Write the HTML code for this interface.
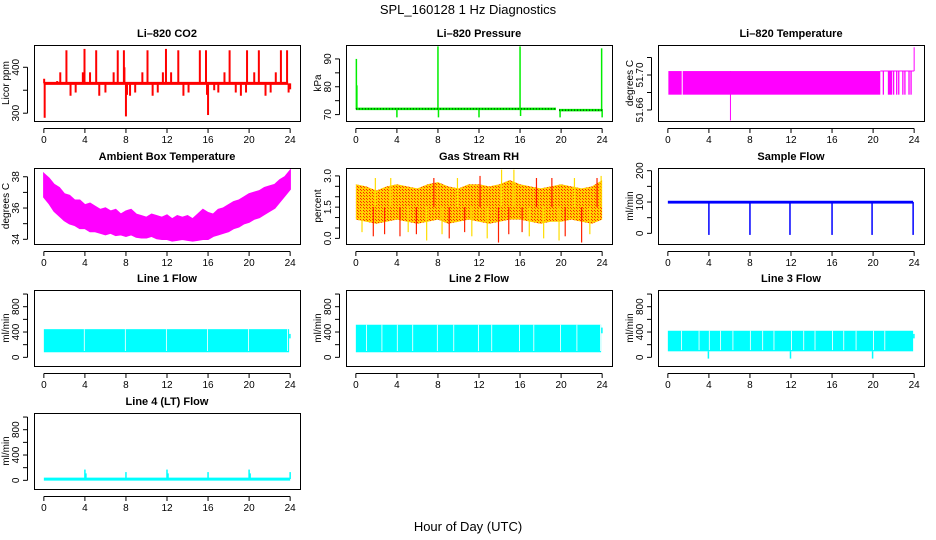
<!DOCTYPE html>
<html><head><meta charset="utf-8"><style>
html,body{margin:0;padding:0;background:#fff;}
svg{display:block;font-family:"Liberation Sans",Arial,sans-serif;}
</style></head><body>
<svg id="c" width="936" height="540" viewBox="0 0 936 540">
<defs>
<pattern id="rhpat" width="3" height="3" patternUnits="userSpaceOnUse">
<rect width="3" height="3" fill="#ffd000"/><rect width="1" height="1" fill="#ff2000"/><rect x="1" y="1" width="1" height="1" fill="#ff4000"/>
</pattern>
</defs>
<text x="468" y="14" text-anchor="middle" font-size="13">SPL_160128  1 Hz Diagnostics</text>
<text x="468" y="531" text-anchor="middle" font-size="13">Hour of Day (UTC)</text>
</svg>
<script>
const xTicks=[0,4,8,12,16,20,24];
// CO2
const co2Base=365;
const co2SpikeHours=[0.03,0.08,1.3,1.6,2.2,2.6,3.1,3.8,3.96,4.5,5.1,5.4,6.0,6.8,7.2,7.8,7.85,8.0,8.1,8.4,8.9,9.6,10.1,10.6,11.1,11.6,11.9,12.4,13.1,13.6,14.1,15.2,15.8,15.9,16.0,16.6,17.0,17.6,18.1,18.7,19.2,19.7,19.8,20.5,20.95,21.6,22.1,22.6,23.1,23.7,23.85,24.0];
const co2SpikeVals=[375,290,370,389,437,338,345,389,440,389,437,338,345,389,437,437,400,293,340,338,345,389,437,338,345,389,440,389,437,338,345,437,437,340,296,350,345,389,437,345,338,345,437,389,437,338,345,389,437,437,345,352];
// Pressure
const pressSegStart=[0,19.8];
const pressSegEnd=[19.5,24];
const pressSegVals=[72.05,71.6];
const pressSpikeHours=[0.05,0.1,4,8,8.05,12,16,16.05,19.9,23.95,24.0];
const pressSpikeVals=[90,80.5,69,94.5,69,69,94.5,69.5,69,93.8,69];
// Li-820 temperature
const tempLow=51.6775, tempHigh=51.7045;
const tempBandStart=[0.05,1.45];
const tempBandEnd=[1.35,20.7];
const tempLineHours=[21.0,21.5,21.6,21.7,21.8,22.0,22.3,22.5,22.9,23.1,23.5,23.7];
const tempSpikeHours=[6.1,24.0];
const tempSpikeVals=[51.648,51.7317];
// Ambient box temperature (half-hourly envelope)
const ambMax=[38.2,37.9,37.5,37.3,36.9,36.8,36.5,36.5,36.2,36.3,36.1,35.9,36.0,35.8,35.9,35.6,35.8,35.9,35.6,35.5,35.4,35.6,35.5,35.4,35.55,35.3,35.5,35.4,35.5,35.3,35.6,35.9,35.7,35.6,35.9,36.0,36.2,36.4,36.5,36.7,36.9,37.0,37.1,37.3,37.4,37.5,37.8,38.0,38.4];
const ambMin=[36.7,36.3,35.8,35.5,35.2,35.0,34.9,34.7,34.7,34.5,34.5,34.4,34.3,34.4,34.25,34.3,34.2,34.3,34.15,34.1,34.1,34.2,34.05,34.0,34.0,33.9,33.95,34.0,33.95,33.9,33.95,34.0,34.0,34.2,34.3,34.4,34.5,34.7,34.8,35.0,35.1,35.3,35.4,35.6,35.8,36.0,36.4,36.8,37.2];
// Gas stream RH
const rhHours=[0,1,2,3,4,5,6,7,8,9,10,11,12,13,14,15,16,17,18,19,20,21,22,23,24];
const rhTop=[2.6,2.5,2.3,2.5,2.6,2.5,2.4,2.6,2.7,2.5,2.4,2.6,2.6,2.5,2.6,2.8,2.6,2.5,2.4,2.5,2.6,2.5,2.4,2.5,2.8];
const rhBot=[0.9,0.8,0.7,0.8,0.9,0.8,0.7,0.8,0.9,0.7,0.8,0.9,0.8,0.7,0.8,0.9,0.9,0.8,0.7,0.8,0.8,0.9,0.8,0.7,0.9];
const rhSpikeHours=[0.6,1.7,1.9,2.8,3.4,4.3,5.1,5.9,6.9,7.6,8.4,9.1,9.9,10.6,11.3,12.1,12.8,13.9,14.2,14.9,15.4,16.2,16.9,17.6,18.3,19.1,19.8,20.4,21.3,22.0,22.8,23.5,23.9];
const rhSpikeVals=[0.3,0.1,2.9,0.2,2.9,0.1,0.3,0.2,-0.1,2.9,0.2,0.0,2.9,0.3,0.1,3.0,0.0,-0.2,3.3,0.2,3.3,0.3,0.1,2.9,0.0,2.9,-0.1,0.1,2.9,-0.2,0.2,2.9,3.0];
// Sample flow
const sfLow=95, sfHigh=104, sfEnd=23.9;
const sfDropHours=[4,8,11.9,16,19.9,23.9];
const sfDropVals=[-5,-5,-5,-5,-5,-5];
// Line flows
const l1Low=80, l1High=445;
const l1Gaps=[3.9,7.9,11.9,15.9,19.9,23.7];
const l2Low=80, l2High=515;
const l2Gaps=[1.0,2.5,4.0,5.5,7.9,9.5,11.9,13.2,15.9,17.3,19.9,21.5,23.8];
const l3Low=95, l3High=420;
const l3Gaps=[1.3,3.0,4.0,5.1,6.3,8.0,9.2,10.3,12.0,13.2,14.3,16.0,17.1,18.3,20.0,21.1];
const l3DipHours=[3.95,11.95,19.95];
const l3DipVals=[-20,-20,-20];
const l4Base=20;
const l4SpikeHours=[4,4.1,8,12,12.1,16,20,20.1,24];
const l4SpikeVals=[170,110,130,170,110,130,170,110,130];

const NS='http://www.w3.org/2000/svg';
const svg=document.getElementById('c');
const lefts=[34,346,658], bottoms=[121,244,366,489], W=266, H=76;
function mk(tag,attrs,parent){const e=document.createElementNS(NS,tag);for(const k in attrs)e.setAttribute(k,attrs[k]);(parent||svg).appendChild(e);return e;}
function panel(col,row,name,title,ylab,ymin,ymax,ticks,labels,labelText){
  const L=lefts[col], B=bottoms[row], T=B-H;
  const g=mk('g',{});
  
  
  const sx=h=>L+(h+0.96)/25.92*W;
  const sy=v=>T+(ymax-v)/(ymax-ymin)*H;
  const dg=mk('g',{},g);
  
  
  const ag=mk('g',{},g);
  const box=mk('rect',{x:L+0.5,y:T+0.5,width:W,height:H,fill:'none',stroke:'#000','stroke-width':1},ag);
  
  
  mk('line',{x1:sx(0),x2:sx(24),y1:B+7.5,y2:B+7.5,stroke:'#000'},ag);
  xTicks.forEach(t=>{
    mk('line',{x1:sx(t),x2:sx(t),y1:B+7.5,y2:B+12,stroke:'#000'},ag);
    const tx=mk('text',{x:sx(t),y:B+22,'text-anchor':'middle','font-size':10},ag);
    tx.textContent=t;
    
    
  });
  mk('line',{x1:L-6.5,x2:L-6.5,y1:sy(ticks[0]),y2:sy(ticks[ticks.length-1]),stroke:'#000'},ag);
  ticks.forEach(t=>{
    mk('line',{x1:L-11,x2:L-6.5,y1:sy(t),y2:sy(t),stroke:'#000'},ag);
  });
  labels.forEach((t,i)=>{
    const y=sy(t);
    const tx=mk('text',{x:0,y:0,transform:`translate(${L-15},${y}) rotate(-90)`,'text-anchor':'middle','font-size':10},ag);
    tx.textContent=labelText?labelText[i]:t;
    
    
  });
  const yl=mk('text',{x:0,y:0,transform:`translate(${L-25},${T+H/2}) rotate(-90)`,'text-anchor':'middle','font-size':10},ag);
  yl.textContent=ylab;
  
  
  const tt=mk('text',{x:L+W/2,y:T-8,'text-anchor':'middle','font-size':11,'font-weight':'bold'},ag);
  tt.textContent=title;
  
  
  return {sx,sy,g:dg};
}
function vl(p,h,v1,v2,col,w){return mk('line',{x1:p.sx(h),x2:p.sx(h),y1:p.sy(v1),y2:p.sy(v2),stroke:col,'stroke-width':w||1},p.g);}
function band(p,h1,h2,v1,v2,fill){return mk('rect',{x:p.sx(h1),y:p.sy(v2),width:p.sx(h2)-p.sx(h1),height:p.sy(v1)-p.sy(v2),fill:fill},p.g);}
function envelope(p,hours,top,bot,fill,stroke){
  let pts=hours.map((h,i)=>p.sx(h)+','+p.sy(top[i]));
  for(let i=hours.length-1;i>=0;i--)pts.push(p.sx(hours[i])+','+p.sy(bot[i]));
  return mk('polygon',{points:pts.join(' '),fill:fill,stroke:stroke||'none','stroke-width':1.5,'stroke-linejoin':'miter'},p.g);
}

// CO2
let p=panel(0,0,'co2','Li\u2013820 CO2','Licor ppm',283,448.5,[300,350,400],[300,400]);
co2SpikeHours.forEach((h,i)=>vl(p,h,co2Base,co2SpikeVals[i],'#ff0000',2));
mk('line',{x1:p.sx(0),x2:p.sx(23.8),y1:p.sy(co2Base),y2:p.sy(co2Base),stroke:'#ff0000','stroke-width':3},p.g);

// Pressure
p=panel(1,0,'pressure','Li\u2013820 Pressure','kPa',67.7,95,[70,75,80,85,90],[70,80,90]);
pressSegStart.forEach((s,i)=>mk('line',{x1:p.sx(s),x2:p.sx(pressSegEnd[i]),y1:p.sy(pressSegVals[i]),y2:p.sy(pressSegVals[i]),stroke:'#00ee00','stroke-width':2.5},p.g));
pressSpikeHours.forEach((h,i)=>vl(p,h,72,pressSpikeVals[i],'#00ee00',1.5));
pressSegStart.forEach((s,i)=>mk('line',{x1:p.sx(s),x2:p.sx(pressSegEnd[i]),y1:p.sy(pressSegVals[i]),y2:p.sy(pressSegVals[i]),stroke:'#000','stroke-width':1,'stroke-dasharray':'1,2'},p.g));

// Temperature
p=panel(2,0,'li820-temperature','Li\u2013820 Temperature','degrees C',51.6474,51.7343,[51.66,51.68,51.70,51.72],[51.66,51.70],['51.66','51.70']);
tempBandStart.forEach((s,i)=>band(p,s,tempBandEnd[i],tempLow,tempHigh,'#ff00ff'));
mk('line',{x1:p.sx(20.7),x2:p.sx(24),y1:p.sy(tempHigh),y2:p.sy(tempHigh),stroke:'#ff00ff'},p.g);
tempLineHours.forEach(h=>vl(p,h,tempLow,tempHigh,'#ff00ff',1.3));
tempSpikeHours.forEach((h,i)=>vl(p,h,tempHigh,tempSpikeVals[i],'#ff00ff',1));

// Ambient
p=panel(0,1,'ambient-temp','Ambient Box Temperature','degrees C',33.7,38.56,[34,35,36,37,38],[34,36,38]);
envelope(p,ambMax.map((v,i)=>i*0.5),ambMax,ambMin,'#ff00ff','#ff00ff');

// RH
p=panel(1,1,'gas-rh','Gas Stream RH','percent',-0.27,3.38,[0,0.5,1,1.5,2,2.5,3],[0,1.5,3],['0.0','1.5','3.0']);
envelope(p,rhHours,rhTop,rhBot,'url(#rhpat)');
rhSpikeHours.forEach((h,i)=>vl(p,h,1.5,rhSpikeVals[i],i%2?'#ff2000':'#ffdd00',1.2));

// Sample flow
p=panel(2,1,'sample-flow','Sample Flow','ml/min',-34,208.6,[0,50,100,150,200],[0,100,200]);
band(p,0,sfEnd,sfLow,sfHigh,'#0000ff');
sfDropHours.forEach((h,i)=>vl(p,h,100,sfDropVals[i],'#0000ff',1.5));

// Line flows
const lt=[0,200,400,600,800,1000], ll=[0,400,800];
function flow(col,row,name,title,lo,hi,gaps){
  const q=panel(col,row,name,title,'ml/min',-137,1064,lt,ll);
  band(q,0,23.9,lo,hi,'#00ffff');
  gaps.forEach(h=>band(q,h,h+0.08,lo+20,hi,'#ffffff'));
  return q;
}
p=flow(0,2,'line1-flow','Line 1 Flow',l1Low,l1High,l1Gaps);
band(p,23.9,24.05,300,370,'#00ffff');
p=flow(1,2,'line2-flow','Line 2 Flow',l2Low,l2High,l2Gaps);
band(p,23.9,24.05,380,470,'#00ffff');
p=flow(2,2,'line3-flow','Line 3 Flow',l3Low,l3High,l3Gaps);
band(p,23.9,24.05,300,370,'#00ffff');
l3DipHours.forEach((h,i)=>vl(p,h,l3Low,l3DipVals[i],'#00ffff',1.5));
p=panel(0,3,'line4-flow','Line 4 (LT) Flow','ml/min',-137,1064,lt,ll);
mk('line',{x1:p.sx(0),x2:p.sx(24),y1:p.sy(l4Base),y2:p.sy(l4Base),stroke:'#00ffff','stroke-width':3},p.g);
l4SpikeHours.forEach((h,i)=>vl(p,h,l4Base,l4SpikeVals[i],'#00ffff',1.5));
</script>
</body></html>
